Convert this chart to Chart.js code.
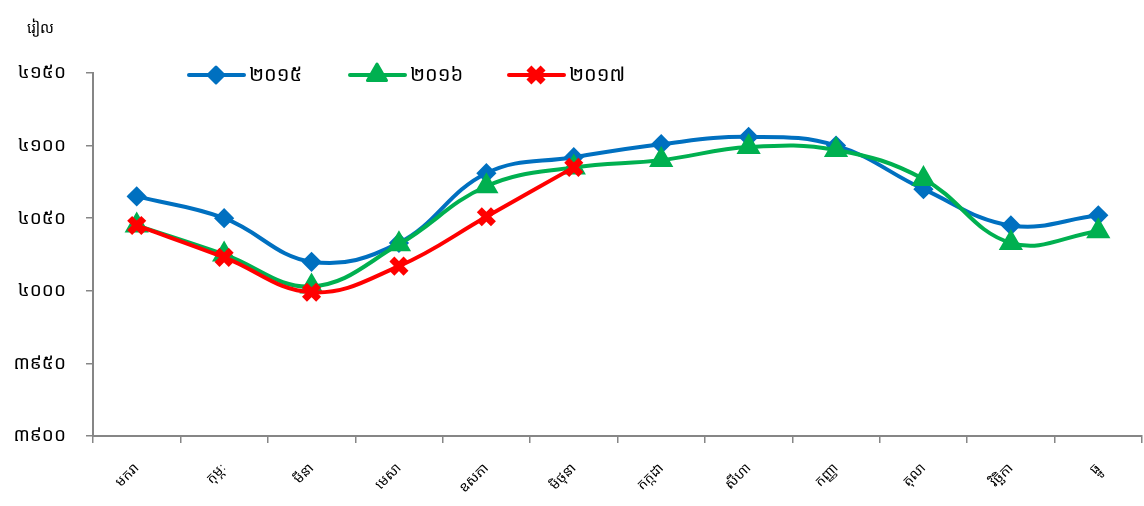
<!DOCTYPE html>
<html>
<head>
<meta charset="utf-8">
<script src="https://cdn.jsdelivr.net/npm/chart.js@4/dist/chart.umd.min.js"></script>
<style>
  body { margin: 0; background: #fff; }
  #wrap { width: 1144px; height: 506px; }
</style>
</head>
<body>
<div id="wrap"><canvas id="myChart" width="1144" height="506"></canvas></div>
<script>
var months = ['មករា', 'កុម្ភៈ', 'មីនា', 'មេសា', 'ឧសភា', 'មិថុនា', 'កក្កដា', 'សីហា', 'កញ្ញា', 'តុលា', 'វិច្ឆិកា', 'ធ្នូ'];
var seriesNames = ['២០១៥', '២០១៦', '២០១៧'];
var y2015 = [4065, 4050, 4020, 4033, 4081, 4092, 4101, 4106, 4100, 4070, 4045, 4052];
var y2016 = [4045, 4025, 4003, 4032, 4072, 4085, 4090, 4099, 4097, 4077, 4033, 4041];
var y2017 = [4045, 4023, 3999, 4017, 4051, 4085];
var yMin = 3900, yMax = 4150, yStep = 50;
var khmerDigits = ['០', '១', '២', '៣', '៤', '៥', '៦', '៧', '៨', '៩'];

var khFont = '"Noto Sans Khmer", "Khmer OS", "DejaVu Sans", sans-serif';

function toKhmer(n) {
    return String(n).split('').map(function (d) { return khmerDigits[+d]; }).join('');
}

var colors = ['#0070C0', '#00B050', '#FF0000'];
var styles = [
    { pointStyle: 'rectRot', radius: 8, border: 3 },
    { pointStyle: 'triangle', radius: 11, border: 3 },
    { pointStyle: 'crossRot', radius: 10, border: 7 }
];

function makeSet(i, data) {
    return {
        label: seriesNames[i],
        data: data,
        order: 2 - i, // later years on top, like the original
        borderColor: colors[i],
        backgroundColor: colors[i],
        borderWidth: 4,
        tension: 0.4,
        clip: false,
        pointStyle: styles[i].pointStyle,
        pointRadius: styles[i].radius,
        pointHoverRadius: styles[i].radius,
        pointBorderWidth: styles[i].border,
        pointBackgroundColor: colors[i],
        pointBorderColor: colors[i]
    };
}

// legend drawn by hand: line with marker, then the year
var legendPlugin = {
    id: 'lineLegend',
    afterDraw: function (chart) {
        var ctx = chart.ctx;
        var xs = [189, 350, 509];
        var y = 75;
        ctx.save();
        seriesNames.forEach(function (name, i) {
            var x = xs[i];
            ctx.strokeStyle = colors[i];
            ctx.fillStyle = colors[i];
            ctx.lineWidth = 4;
            ctx.lineCap = 'round';
            ctx.beginPath();
            ctx.moveTo(x, y);
            ctx.lineTo(x + 55, y);
            ctx.stroke();
            ctx.lineCap = 'butt';
            ctx.lineJoin = 'round';
            ctx.lineWidth = styles[i].border;
            Chart.helpers.drawPoint(ctx, {
                pointStyle: styles[i].pointStyle,
                radius: styles[i].radius,
                borderWidth: styles[i].border,
                rotation: 0
            }, x + 27, y);
            ctx.fillStyle = '#000';
            ctx.font = '20px ' + khFont;
            ctx.textBaseline = 'middle';
            ctx.fillText(name, x + 60, y);
        });
        ctx.fillStyle = '#000';
        ctx.font = '15px ' + khFont;
        ctx.textBaseline = 'middle';
        ctx.fillText('រៀល', 27, 29);
        ctx.restore();
    }
};

var ctx = document.getElementById('myChart').getContext('2d');

var myLineChart = new Chart(ctx, {
    type: 'line',
    data: {
        labels: months,
        datasets: [makeSet(0, y2015), makeSet(1, y2016), makeSet(2, y2017)]
    },
    options: {
        responsive: false,
        animation: false,
        layout: { autoPadding: false, padding: { top: 73, right: 2, left: 0, bottom: 0 } },
        elements: { point: { borderJoinStyle: 'round' }, line: { borderCapStyle: 'round', borderJoinStyle: 'round' } },
        plugins: {
            legend: { display: false },
            tooltip: { enabled: false }
        },
        scales: {
            x: {
                offset: true,
                grid: { offset: true, drawOnChartArea: false, tickLength: 7, color: '#868686', lineWidth: 1.5 },
                border: { color: '#868686', width: 2 },
                ticks: {
                    color: '#000',
                    font: { size: 14, family: khFont },
                    minRotation: 45,
                    maxRotation: 45,
                    padding: 17
                },
                afterFit: function (scale) {
                    scale.height = 70;
                    scale.paddingLeft = 0;
                    scale.paddingRight = 0;
                }
            },
            y: {
                min: yMin,
                max: yMax,
                grid: { drawOnChartArea: false, tickLength: 7, color: '#868686', lineWidth: 1.5 },
                border: { color: '#868686', width: 2 },
                ticks: {
                    stepSize: yStep,
                    color: '#000',
                    font: { size: 19, family: khFont },
                    padding: 20,
                    callback: function (v) { return toKhmer(v); }
                },
                afterFit: function (scale) {
                    scale.width = 93;
                    scale.paddingTop = 0;
                    scale.paddingBottom = 0;
                }
            }
        }
    },
    plugins: [legendPlugin]
});
</script>
</body>
</html>
